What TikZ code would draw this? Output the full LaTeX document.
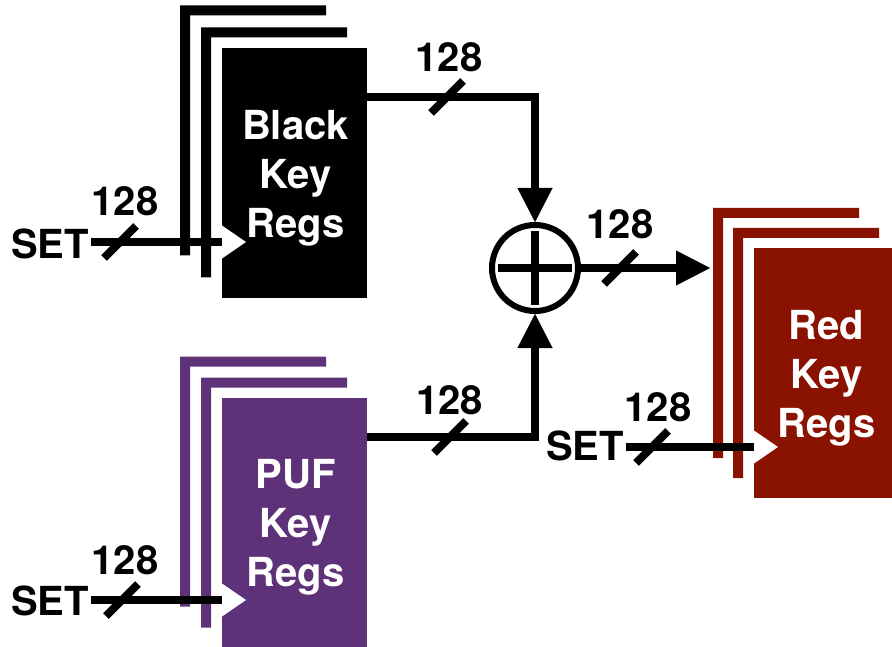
\documentclass[tikz,border=0pt]{standalone}
\usepackage{fontspec}
\setmainfont{TeX Gyre Heros}
\usetikzlibrary{arrows.meta,calc}
\definecolor{pufpurple}{RGB}{94,50,121}
\definecolor{keyred}{RGB}{137,18,0}
\tikzset{
  wire/.style={line width=8pt, draw=black},
  arrowwire/.style={wire, -{Triangle[length=34pt,width=35pt,line width=0.1pt]}},
  busslash/.style={line width=8pt, draw=black},
  lbl/.style={font=\bfseries\fontsize{40}{46}\selectfont, inner sep=2pt},
  regbox/.style={minimum width=145pt, minimum height=250pt, inner sep=0pt, outer sep=0pt},
  regtext/.style={text=white, align=center, font=\bfseries\fontsize{40}{49}\selectfont, inner sep=0pt},
  clock/.style={fill=white},
  xorbox/.style={draw, circle, line width=6pt, minimum size=86pt, inner sep=0pt, outer sep=3pt},
  plusbar/.style={line width=8pt},
}
\begin{document}
\begin{tikzpicture}[x=1pt, y=-1pt]
\clip (0,0) rectangle (892,647);

% register banks (front register of each stack)
\node[regbox, fill=black]     (blk) at (294.5,173.5) {};
\node[regbox, fill=pufpurple] (puf) at (294.5,522.5) {};
\node[regbox, fill=keyred]    (red) at (826.5,373)   {};

% stacked registers behind each bank
\foreach \dx/\dy in {42/43,21/21}
  \fill[black] ([shift={(-\dx,-\dy)}]blk.north west) -- ++(146,0) -- ++(0,10)
    -- ++(-136,0) -- ++(0,240) -- ++(-10,0) -- cycle;
\foreach \dx/\dy in {42/41,21/20}
  \fill[pufpurple] ([shift={(-\dx,-\dy)}]puf.north west) -- ++(146,0) -- ++(0,10)
    -- ++(-136,0) -- ++(0,240) -- ++(-10,0) -- cycle;
\foreach \dx/\dy in {41/40,21/20}
  \fill[keyred] ([shift={(-\dx,-\dy)}]red.north west) -- ++(146,0) -- ++(0,10)
    -- ++(-136,0) -- ++(0,240) -- ++(-10,0) -- cycle;
\coordinate (redBack) at ([shift={(-41,-40)}]red.north west);

% bank labels
\node[regtext] (blkTxt) at ($(blk.center)+(1,5)$) {Black\\Key\\Regs};
\node[regtext] (pufTxt) at ($(puf.center)+(1,5)$) {PUF\\Key\\Regs};
\node[regtext] (redTxt) at ($(red.center)+(0,5)$) {Red\\Key\\Regs};

% XOR combiner
\node[xorbox] (xor) at (535,268) {};
\draw[plusbar] ($(xor.center)+(-37,0)$) -- ($(xor.center)+(37,0)$);
\draw[plusbar] ($(xor.center)+(0,-37)$) -- ($(xor.center)+(0,37)$);

% SET inputs
\node[lbl] (setA) at (50,244) {SET};
\node[lbl] (setB) at (50,601) {SET};
\node[lbl] (setC) at (585,446) {SET};
\coordinate (blkClk) at (blk.west |- 0,242);
\coordinate (pufClk) at (puf.west |- 0,600);
\coordinate (redClk) at (red.west |- 0,447);
\draw[wire] (setA.east |- blkClk) -- (blkClk);
\draw[wire] (setB.east |- pufClk) -- (pufClk);
\draw[wire] (setC.east |- redClk) -- (redClk);

% clock inputs
\foreach \c in {blkClk,pufClk,redClk}
  \fill[clock] ($(\c)+(0,-16.5)$) -- ($(\c)+(24,0)$) -- ($(\c)+(0,16.5)$) -- cycle;

% data paths
\draw[arrowwire] (blk.east |- 0,97) -| (xor.north);
\draw[arrowwire] (puf.east |- 0,437) -| (xor.south);
\draw[arrowwire, shorten >=3pt] (xor.east) -- (redBack |- xor.east);

% bus width marks
\foreach \x/\y in {120/242, 122/600, 652/447, 447/97, 450/437, 620/268}
  \draw[busslash] (\x-16,\y+16) -- (\x+16,\y-16);
\node[lbl] (wA) at (125,201)   {128};
\node[lbl] (wB) at (125,560)   {128};
\node[lbl] (wC) at (658,407)   {128};
\node[lbl] (wD) at (449,57.5)  {128};
\node[lbl] (wE) at (449.5,400) {128};
\node[lbl] (wF) at (620,224)   {128};
\end{tikzpicture}
\end{document}
